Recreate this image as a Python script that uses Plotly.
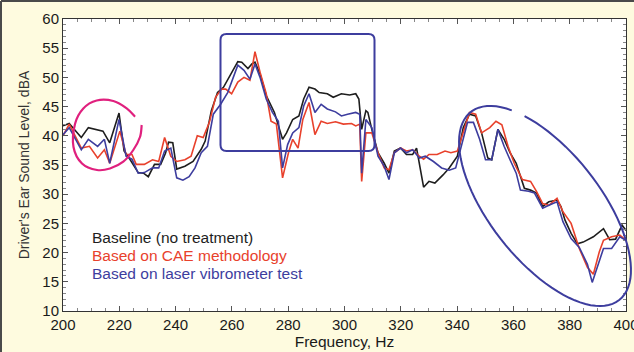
import numpy as np
import plotly.graph_objects as go

# ---------------- data ----------------
baseline_f = [200, 202.2, 206.5, 209, 214.2, 216.6, 219.9, 221.7, 223.1, 226.7, 228.6, 230.3, 232.5, 234.7,
              236.4, 237.5, 239, 240.4, 243.3, 246.2, 249.1, 250.5, 252.7, 254.9, 257, 259.9, 262.1, 263.5,
              265.7, 267.1, 268.2, 270, 272.2, 275.1, 276.5, 278, 279.4, 281.6, 283.8, 285.5, 287.4, 289.5,
              291, 293.9, 296, 298.9, 301.8, 304, 305.1, 306.1, 307.6, 308.3, 309.7, 311.9, 314.1, 315.8,
              317.7, 319.9, 322, 324.2, 325.6, 328.1, 330, 332.1, 335, 337.2, 340.1, 342.2, 344.4, 346.6,
              348.7, 350.9, 352.3, 354.5, 356.7, 358.8, 361, 362.5, 363.9, 366.1, 368.2, 370.4, 372.6,
              375.5, 376.9, 378.3, 380.5, 382.7, 384.8, 388.4, 392, 394.2, 396.3, 398.6, 400]
baseline_v = [41.7, 42.1, 39.7, 41.4, 40.8, 38.8, 43.9, 37.4, 36.5, 33.7, 33.6, 33.0, 35.1, 35.1,
              37.0, 38.9, 38.8, 34.3, 34.8, 35.6, 37.7, 39.1, 44.3, 47.4, 48.3, 50.9, 52.7, 52.6,
              51.5, 52.3, 52.6, 50.6, 46.9, 44.0, 41.7, 39.4, 40.5, 42.8, 43.4, 46.3, 48.3, 48.0,
              47.4, 47.2, 46.6, 47.2, 47.0, 47.2, 46.3, 41.1, 44.3, 44.0, 41.1, 37.1, 35.3, 33.6,
              37.4, 37.9, 36.8, 36.8, 37.9, 31.2, 32.2, 31.9, 33.3, 34.5, 36.5, 41.4, 43.7, 43.4,
              40.5, 36.2, 35.9, 41.1, 39.4, 37.1, 35.3, 33.0, 31.0, 30.7, 30.2, 27.9, 28.7,
              29.0, 27.9, 25.6, 23.3, 21.5, 21.8, 22.7, 24.1, 22.2, 22.3, 24.7, 23.8]

cae_f = [200, 202.2, 206.5, 209.4, 212.3, 214.7, 216.6, 220.2, 222.4, 224.5, 226, 228.9, 231.8, 234,
         236.1, 238.3, 240.4, 243.3, 245.5, 247.7, 249.8, 252, 254.2, 256.3, 257.8, 259.9, 262.1, 264.3,
         266.4, 268.2, 270, 272.2, 273.9, 275.8, 278, 280.1, 281.6, 283.5, 285.2, 287.4, 289.5, 291.7,
         293.9, 296.8, 299.6, 302.5, 304, 305.4, 306.1, 307.6, 309.7, 311.9, 314.1, 315.8, 317.7, 319.9,
         322, 324.2, 326.6, 328.1, 330, 332.9, 335.7, 337.8, 340.1, 342.2, 344.4, 346.6, 348.7, 351.6,
         353.8, 355.9, 358.1, 360.3, 363.2, 366.1, 368.2, 370.4, 372.6, 375.5, 377.6, 380.5, 383.4,
         386.3, 388.4, 390.5, 392, 394.9, 397.8, 400]
cae_v = [40.0, 42.0, 37.9, 38.2, 36.2, 37.6, 35.3, 40.8, 36.8, 36.8, 35.1, 35.1, 35.9, 35.6,
         39.7, 36.5, 35.6, 35.9, 36.5, 40.0, 39.7, 42.3, 46.6, 48.0, 48.0, 47.2, 49.2, 50.0,
         49.5, 54.4, 50.9, 47.2, 42.5, 42.0, 32.8, 37.1, 39.4, 37.9, 42.8, 45.7, 40.2, 42.5,
         42.1, 42.4, 42.0, 42.1, 41.7, 42.0, 32.2, 40.5, 40.5, 37.1, 34.5, 34.2, 37.1, 37.9,
         37.4, 37.6, 36.5, 36.0, 36.8, 36.8, 37.4, 37.1, 37.4, 40.8, 44.0, 43.7, 40.5, 41.4,
         42.5, 41.9, 38.2, 35.3, 32.5, 32.2, 30.5, 28.4, 28.1, 29.3, 27.0, 25.0, 20.7,
         17.5, 16.3, 20.1, 22.1, 22.7, 23.0, 22.1]

laser_f = [200, 202.2, 206.5, 209, 212.3, 214.7, 216.6, 219.9, 222.4, 224.5, 226.7, 228.9, 231.8, 234,
           236.1, 238.3, 240.4, 242.6, 244.8, 246.9, 249.1, 251.3, 253.4, 256, 258.5, 260.6, 262.1, 264.3,
           266.4, 268.2, 270, 272.2, 274.4, 276.5, 278, 279.8, 281.6, 283.8, 285.5, 287.4, 289.5, 291.7,
           293.9, 296.8, 298.9, 301.1, 304, 305.4, 306.1, 307.6, 309.7, 311.9, 314.1, 315.8, 317.7, 319.9,
           322, 324.2, 326.6, 328.7, 331.6, 334.5, 337.2, 339.5, 341.5, 343.7, 345.8, 348, 350.1, 352.3,
           354.5, 356.7, 358.8, 361, 362.5, 365.4, 367.5, 370.4, 372.6, 375.5, 377.6, 380.5, 383.4,
           386.3, 388, 390.5, 392, 394.9, 397.8, 400]
laser_v = [40.2, 41.4, 37.6, 39.4, 38.2, 39.4, 35.3, 42.8, 36.5, 36.0, 33.6, 33.7, 34.5, 34.5,
           37.4, 37.9, 32.8, 32.4, 33.0, 34.5, 37.1, 38.2, 43.7, 45.4, 47.4, 50.3, 52.1, 51.2,
           49.7, 52.3, 50.0, 46.3, 44.0, 42.5, 34.5, 38.5, 40.5, 41.4, 45.1, 47.2, 44.0, 45.4,
           44.6, 44.1, 43.4, 43.7, 44.0, 43.7, 33.6, 42.8, 41.4, 36.5, 34.8, 32.5, 37.1, 37.9,
           37.1, 37.6, 36.2, 36.5, 35.6, 34.5, 34.1, 34.5, 38.2, 42.3, 42.3, 39.4, 35.9, 35.9,
           41.1, 38.2, 35.9, 33.6, 30.7, 30.5, 30.2, 27.6, 28.1, 28.7, 25.3, 22.4, 20.9,
           18.0, 14.9, 18.6, 20.7, 20.7, 22.7, 22.1]

x_ticks = [200, 220, 240, 260, 280, 300, 320, 340, 360, 380, 400]
y_ticks = [10, 15, 20, 25, 30, 35, 40, 45, 50, 55, 60]
series_names = ["Baseline (no treatment)", "Based on CAE methodology", "Based on laser vibrometer test"]

BLACK = "#1e1e1e"
RED = "#e8412c"
BLUE = "#3d3d9e"
MAGENTA = "#e0207e"
FONT = "Liberation Sans, Arial, Helvetica, sans-serif"

W, H = 634, 352
L, R, T, B = 63, 8, 19, 41
PW, PH = W - L - R, H - T - B


def px2paper(x, y):
    return (x - L) / PW, (H - B - y) / PH


def smooth_path(pts):
    P = [np.array(px2paper(*p)) for p in pts]
    n = len(P)
    s = "M %.5f %.5f" % tuple(P[0])
    for i in range(n - 1):
        p0 = P[i - 1] if i > 0 else P[i]
        p1, p2 = P[i], P[i + 1]
        p3 = P[i + 2] if i + 2 < n else P[i + 1]
        c1 = p1 + (p2 - p0) / 6
        c2 = p2 - (p3 - p1) / 6
        s += " C %.5f %.5f, %.5f %.5f, %.5f %.5f" % (c1[0], c1[1], c2[0], c2[1], p2[0], p2[1])
    return s


fig = go.Figure()
for f, v, c, nm in [(baseline_f, baseline_v, BLACK, series_names[0]),
                    (cae_f, cae_v, RED, series_names[1]),
                    (laser_f, laser_v, BLUE, series_names[2])]:
    fig.add_trace(go.Scatter(x=f, y=v, mode="lines", name=nm,
                             line=dict(color=c, width=1.6), showlegend=False))

# legend-like coloured text
for i, (nm, c) in enumerate(zip(series_names, [BLACK, RED, BLUE])):
    fig.add_annotation(x=px2paper(90, 0)[0], y=px2paper(0, 237 + 18 * i)[1], xref="paper", yref="paper",
                       text=nm, showarrow=False, xanchor="left", yanchor="middle",
                       font=dict(family=FONT, size=15.5, color=c))

shapes = []
# magenta open loop
mag_pts = [(141.7, 125), (140, 137), (133.3, 150), (123.3, 161.7), (110, 168.5), (97, 170), (82, 163.5),
           (73.5, 147), (75, 124), (83.3, 108.5), (96.7, 100.5), (113.3, 101), (126.7, 108.3), (135, 116.7)]
shapes.append(dict(type="path", xref="paper", yref="paper", path=smooth_path(mag_pts),
                   line=dict(color=MAGENTA, width=2.2)))

# rounded rectangle
x0, y0, x1, y1, r = 220.5, 34, 374.5, 151, 6
rr = [(x0 + r, y0), (x1 - r, y0), (x1, y0 + r), (x1, y1 - r), (x1 - r, y1), (x0 + r, y1), (x0, y1 - r), (x0, y0 + r)]
cor = [(x1, y0), (x1, y1), (x0, y1), (x0, y0)]
pp = [px2paper(*p) for p in rr]
cc = [px2paper(*p) for p in cor]
path = "M %.5f %.5f L %.5f %.5f Q %.5f %.5f %.5f %.5f L %.5f %.5f Q %.5f %.5f %.5f %.5f L %.5f %.5f Q %.5f %.5f %.5f %.5f L %.5f %.5f Q %.5f %.5f %.5f %.5f Z" % (
    pp[0] + pp[1] + cc[0] + pp[2] + pp[3] + cc[1] + pp[4] + pp[5] + cc[2] + pp[6] + pp[7] + cc[3] + pp[0])
shapes.append(dict(type="path", xref="paper", yref="paper", path=path, line=dict(color=BLUE, width=2)))

# tilted ellipse with a gap
cx, cy, a, b, th = 545, 206, 119.8, 55.2, np.radians(51.7)
ux, uy = np.cos(th), np.sin(th)
nx, ny = -np.sin(th), np.cos(th)
ts = np.radians(np.linspace(226, 577, 90))
ell = [(cx + a * np.cos(t) * ux + b * np.sin(t) * nx, cy + a * np.cos(t) * uy + b * np.sin(t) * ny) for t in ts]
ep = [px2paper(*p) for p in ell]
path = "M %.5f %.5f " % ep[0] + " ".join("L %.5f %.5f" % p for p in ep[1:])
shapes.append(dict(type="path", xref="paper", yref="paper", path=path, line=dict(color=BLUE, width=2)))

# frame border (top & left)
bx0, by_top = px2paper(1, 1)
bx1, _ = px2paper(W, 1)
_, by_bot = px2paper(1, H)
shapes.append(dict(type="line", xref="paper", yref="paper", x0=bx0, x1=bx1, y0=by_top, y1=by_top,
                   line=dict(color="#4a4a4a", width=2)))
shapes.append(dict(type="line", xref="paper", yref="paper", x0=bx0, x1=bx0, y0=by_top, y1=by_bot,
                   line=dict(color="#4a4a4a", width=2)))

axis_common = dict(showgrid=False, zeroline=False, showline=True, linecolor="#333", linewidth=1,
                   mirror="ticks", ticks="inside", ticklen=5, tickcolor="#555", automargin=False,
                   tickfont=dict(family=FONT, size=15, color="#1a1a1a"))

fig.update_layout(
    width=W, height=H,
    margin=dict(l=L, r=R, t=T, b=B, pad=0),
    paper_bgcolor="#fefbdf", plot_bgcolor="#ffffff",
    shapes=shapes,
    xaxis=dict(range=[200, 400], tickvals=x_ticks, ticktext=[str(t) for t in x_ticks],
               ticklabeloverflow="allow",
               minor=dict(ticks="inside", dtick=5, ticklen=3, tickcolor="#888"),
               title=dict(text="Frequency, Hz", font=dict(family=FONT, size=15.5, color="#1a1a1a"), standoff=1),
               **axis_common),
    yaxis=dict(range=[10, 60], tickvals=y_ticks, ticktext=[str(t) for t in y_ticks],
               minor=dict(ticks="inside", dtick=1, ticklen=3, tickcolor="#888"),
               title=dict(text="Driver's Ear Sound Level, dBA", font=dict(family=FONT, size=14, color="#333"),
                          standoff=9),
               **axis_common),
)

fig.write_html("out.html",
               config={"displayModeBar": False},
               post_script="document.body.style.margin='0';document.body.style.padding='0';"
                           "document.body.style.overflow='hidden';")
